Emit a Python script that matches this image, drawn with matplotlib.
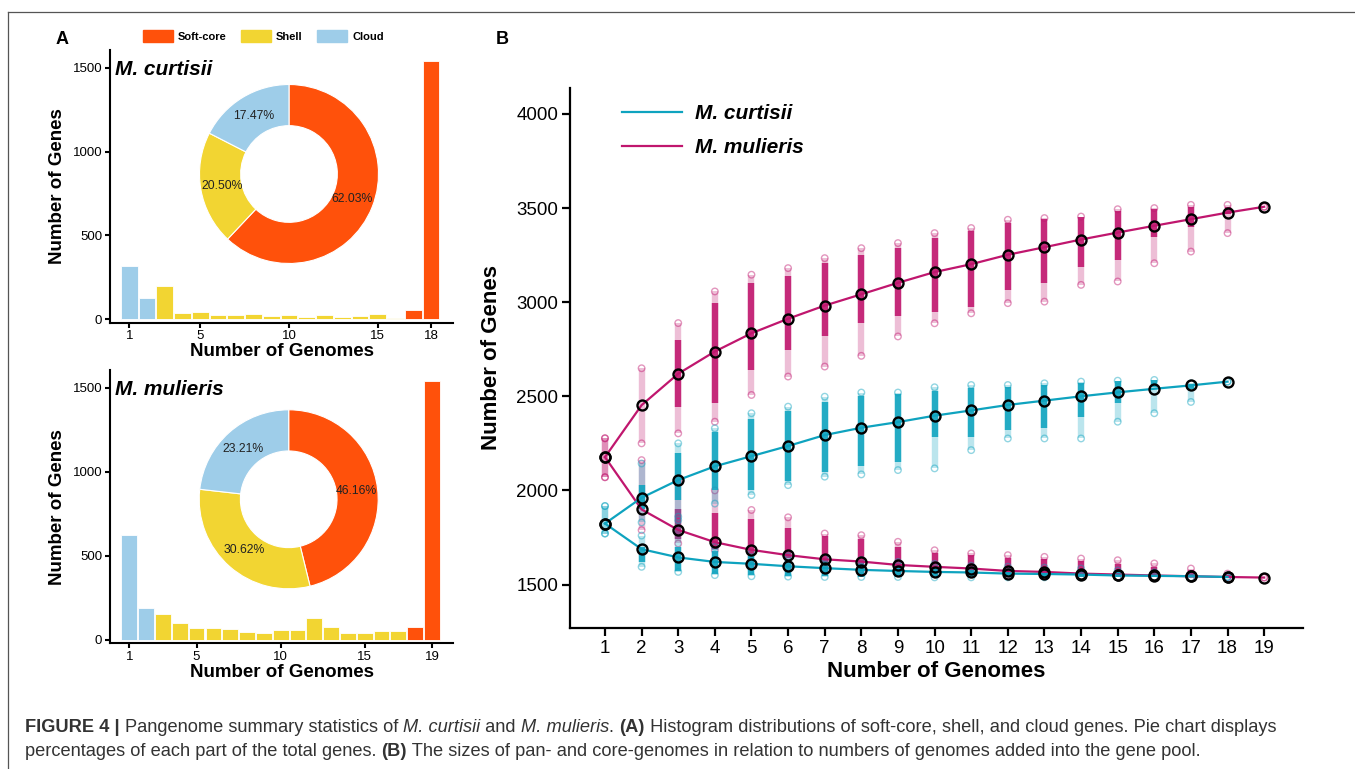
import matplotlib
matplotlib.use("Agg")
import matplotlib.pyplot as plt
from matplotlib.patches import Patch
from matplotlib.lines import Line2D

plt.rcParams["font.family"] = ["Liberation Sans", "DejaVu Sans"]

# ---------------- data: panel A ----------------
cur_counts = [319, 129, 198, 38, 42, 28, 28, 34, 22, 24, 14, 24, 12, 22, 30, 8, 55, 1540]
cur_cats = ["Cloud"] * 2 + ["Shell"] * 14 + ["Soft-core"] * 2
cur_pct = [62.03, 20.50, 17.47]

mul_counts = [624, 189, 153, 101, 70, 72, 64, 50, 44, 60, 60, 131, 79, 44, 40, 52, 54, 79, 1538]
mul_cats = ["Cloud"] * 2 + ["Shell"] * 15 + ["Soft-core"] * 2
mul_pct = [46.16, 30.62, 23.21]

pie_order = ["Soft-core", "Shell", "Cloud"]
part_colors = {"Soft-core": "#ff510b", "Shell": "#f2d532", "Cloud": "#9ecde9"}

# ---------------- data: panel B ----------------
cur_n = list(range(1, 19))
cur_pan = [1824, 1961, 2055, 2128, 2182, 2236, 2294, 2333, 2363, 2397, 2425, 2454, 2477, 2500, 2521, 2540, 2558, 2578]
cur_core = [1824, 1688, 1644, 1620, 1610, 1597, 1587, 1578, 1572, 1567, 1564, 1558, 1556, 1553, 1548, 1546, 1544, 1540]
# spread of permutations: faint low, dense low, dense high, faint high
cur_pan_flo = [1771, 1830, 1860, 1930, 1975, 2028, 2073, 2085, 2108, 2117, 2214, 2276, 2276, 2276, 2365, 2410, 2470, 2578]
cur_pan_dlo = [1824, 1900, 1950, 2000, 2000, 2050, 2100, 2130, 2150, 2285, 2285, 2321, 2330, 2391, 2463, 2551, 2540, 2578]
cur_pan_dhi = [1824, 2030, 2200, 2310, 2380, 2420, 2470, 2500, 2510, 2530, 2545, 2550, 2560, 2570, 2580, 2585, 2565, 2578]
cur_pan_fhi = [1917, 2143, 2250, 2330, 2410, 2445, 2498, 2520, 2520, 2548, 2560, 2560, 2569, 2578, 2583, 2587, 2569, 2578]
cur_core_flo = [1771, 1594, 1567, 1550, 1544, 1542, 1540, 1540, 1540, 1538, 1538, 1538, 1538, 1538, 1538, 1538, 1538, 1540]
cur_core_dlo = [1824, 1620, 1570, 1555, 1548, 1545, 1543, 1542, 1542, 1540, 1540, 1540, 1540, 1540, 1540, 1540, 1540, 1540]
cur_core_dhi = [1824, 1700, 1700, 1680, 1650, 1630, 1620, 1610, 1600, 1590, 1585, 1580, 1575, 1570, 1565, 1558, 1550, 1540]
cur_core_fhi = [1917, 1760, 1842, 1700, 1665, 1650, 1640, 1630, 1620, 1610, 1600, 1595, 1590, 1585, 1575, 1565, 1555, 1540]

mul_n = list(range(1, 20))
mul_pan = [2177, 2453, 2620, 2738, 2835, 2912, 2982, 3042, 3103, 3160, 3202, 3252, 3292, 3333, 3370, 3406, 3441, 3476, 3507]
mul_core = [2177, 1899, 1790, 1725, 1684, 1656, 1634, 1622, 1604, 1594, 1585, 1572, 1567, 1558, 1553, 1548, 1544, 1540, 1537]
mul_pan_flo = [2070, 2250, 2303, 2365, 2507, 2605, 2658, 2715, 2818, 2888, 2941, 2995, 3003, 3092, 3110, 3207, 3269, 3367, 3507]
mul_pan_dlo = [2177, 2453, 2445, 2463, 2640, 2747, 2818, 2889, 2924, 2950, 2977, 3065, 3101, 3189, 3225, 3349, 3400, 3470, 3507]
mul_pan_dhi = [2177, 2453, 2800, 2995, 3101, 3137, 3208, 3252, 3287, 3340, 3380, 3420, 3440, 3450, 3485, 3495, 3505, 3505, 3507]
mul_pan_fhi = [2277, 2649, 2889, 3057, 3146, 3181, 3234, 3287, 3314, 3367, 3394, 3438, 3447, 3455, 3494, 3500, 3517, 3517, 3507]
mul_core_flo = [2070, 1789, 1718, 1683, 1600, 1590, 1585, 1580, 1570, 1560, 1555, 1550, 1545, 1542, 1540, 1538, 1537, 1537, 1537]
mul_core_dlo = [2177, 1899, 1740, 1690, 1660, 1640, 1620, 1600, 1590, 1575, 1565, 1560, 1555, 1550, 1545, 1542, 1540, 1538, 1537]
mul_core_dhi = [2177, 1899, 1900, 1880, 1850, 1800, 1760, 1740, 1700, 1670, 1655, 1640, 1635, 1625, 1610, 1595, 1575, 1550, 1537]
mul_core_fhi = [2277, 2161, 2050, 2000, 1896, 1857, 1771, 1762, 1727, 1682, 1665, 1656, 1647, 1638, 1629, 1612, 1585, 1558, 1537]

teal = "#0ea3bf"
magenta = "#c0166e"

# ---------------- figure ----------------
W, H = 1355, 769
fig = plt.figure(figsize=(W / 100, H / 100), dpi=100)


def box(l, t, r, b):
    return [l / W, 1 - b / H, (r - l) / W, (b - t) / H]


def style_axes(ax, lw=1.5):
    for s in ["top", "right"]:
        ax.spines[s].set_visible(False)
    for s in ["left", "bottom"]:
        ax.spines[s].set_linewidth(lw)
    ax.tick_params(direction="out", width=lw, length=3.5, colors="black")


def hist_panel(rect, counts, cats, xticks, xlim, title, pct, center):
    ax = fig.add_axes(box(*rect))
    xs = list(range(1, len(counts) + 1))
    ax.bar(xs, counts, width=0.94, color=[part_colors[c] for c in cats],
           edgecolor="white", linewidth=0.6)
    ax.set_xlim(*xlim)
    ax.set_ylim(-20, 1605)
    ax.set_xticks(xticks)
    ax.set_yticks([0, 500, 1000, 1500])
    style_axes(ax)
    ax.tick_params(labelsize=9.5, pad=2)
    ax.set_xlabel("Number of Genomes", fontsize=13.5, fontweight="bold", labelpad=0.5)
    ax.set_ylabel("Number of Genes", fontsize=13.5, fontweight="bold", labelpad=5)
    ax.text(0.015, 0.93, title, transform=ax.transAxes, fontsize=15,
            fontweight="bold", fontstyle="italic", va="center", ha="left")
    # donut chart
    cx, cy, r = center
    s = 2 * 1.25 * r
    pax = fig.add_axes(box(cx - s / 2, cy - s / 2, cx + s / 2, cy + s / 2))
    pax.pie(pct, colors=[part_colors[c] for c in pie_order], startangle=90,
            counterclock=False, autopct=lambda p: f"{p:.2f}%", pctdistance=0.76,
            wedgeprops=dict(width=0.46, edgecolor="white", linewidth=0.8),
            textprops=dict(fontsize=8.8, color="#222222"))
    pax.set_xlim(-1.25, 1.25)
    pax.set_ylim(-1.25, 1.25)
    return ax


hist_panel((110, 50, 453, 322.7), cur_counts, cur_cats, [1, 5, 10, 15, 18],
           (-0.09, 19.24), "M. curtisii", cur_pct, (289, 174, 89.5))
hist_panel((110, 370, 453, 643.3), mul_counts, mul_cats, [1, 5, 10, 15, 19],
           (-0.15, 20.25), "M. mulieris", mul_pct, (288.7, 499.3, 89.5))

fig.legend(handles=[Patch(color=part_colors[c]) for c in pie_order], labels=pie_order,
           loc="center left", bbox_to_anchor=(143 / W, 1 - 36 / H), ncol=3, frameon=False,
           prop=dict(size=8, weight="bold"), handlelength=2.7, handleheight=1.35,
           handletextpad=0.45, columnspacing=1.3, borderpad=0, borderaxespad=0)

# ---------------- panel B ----------------
axb = fig.add_axes(box(570, 88, 1303, 628))


def spread(ax, xs, flo, dlo, dhi, fhi, color):
    ax.vlines(xs, flo, fhi, color=color, alpha=0.28, lw=4.6, zorder=2)
    ax.vlines(xs, dlo, dhi, color=color, alpha=0.88, lw=4.6, zorder=2)
    ax.scatter(xs, flo, s=22, facecolors="none", edgecolors=color, alpha=0.45, lw=1, zorder=2)
    ax.scatter(xs, fhi, s=22, facecolors="none", edgecolors=color, alpha=0.45, lw=1, zorder=2)


spread(axb, mul_n, mul_pan_flo, mul_pan_dlo, mul_pan_dhi, mul_pan_fhi, magenta)
spread(axb, mul_n, mul_core_flo, mul_core_dlo, mul_core_dhi, mul_core_fhi, magenta)
spread(axb, cur_n, cur_pan_flo, cur_pan_dlo, cur_pan_dhi, cur_pan_fhi, teal)
spread(axb, cur_n, cur_core_flo, cur_core_dlo, cur_core_dhi, cur_core_fhi, teal)

for xs, ys, c in [(mul_n, mul_pan, magenta), (mul_n, mul_core, magenta),
                  (cur_n, cur_pan, teal), (cur_n, cur_core, teal)]:
    axb.plot(xs, ys, color=c, lw=1.6, zorder=3)
    axb.plot(xs, ys, ls="none", marker="o", ms=7.2, mfc="none", mec="black", mew=1.7, zorder=4)

axb.set_xlim(0.045, 20.06)
axb.set_ylim(1269, 4138)
axb.set_xticks(mul_n)
axb.set_yticks([1500, 2000, 2500, 3000, 3500, 4000])
style_axes(axb, lw=1.6)
axb.tick_params(labelsize=13.5, length=5.5, pad=3)
axb.set_xlabel("Number of Genomes", fontsize=16, fontweight="bold", labelpad=3)
axb.set_ylabel("Number of Genes", fontsize=16, fontweight="bold", labelpad=10)
axb.legend(handles=[Line2D([], [], color=teal, lw=1.6), Line2D([], [], color=magenta, lw=1.6)],
           labels=["M. curtisii", "M. mulieris"], loc="upper left",
           bbox_to_anchor=(622 / W, 1 - 104 / H), bbox_transform=fig.transFigure,
           frameon=False, prop=dict(size=15, weight="bold", style="italic"),
           handlelength=2.9, handletextpad=0.6, labelspacing=0.72, borderpad=0, borderaxespad=0)

# panel letters
fig.text(62 / W, 1 - 40 / H, "A", fontsize=13, fontweight="bold", ha="center", va="center")
fig.text(502 / W, 1 - 40 / H, "B", fontsize=13, fontweight="bold", ha="center", va="center")

# frame lines
fig.add_artist(Line2D([8 / W, 8 / W], [0, 1 - 12 / H], transform=fig.transFigure, color="#555555", lw=0.9))
fig.add_artist(Line2D([8 / W, 1], [1 - 12 / H, 1 - 12 / H], transform=fig.transFigure, color="#555555", lw=0.9))

# ---------------- caption ----------------
cap1 = [("FIGURE 4 | ", "b"), ("Pangenome summary statistics of ", "n"), ("M. curtisii", "i"),
        (" and ", "n"), ("M. mulieris", "i"), (". ", "n"), ("(A)", "b"),
        (" Histogram distributions of soft-core, shell, and cloud genes. Pie chart displays", "n")]
cap2 = [("percentages of each part of the total genes. ", "n"), ("(B)", "b"),
        (" The sizes of pan- and core-genomes in relation to numbers of genomes added into the gene pool.", "n")]

renderer = fig.canvas.get_renderer()


def props(style, size):
    kw = dict(fontsize=size, color="#333333", va="center", ha="left")
    if style == "b":
        kw["fontweight"] = "bold"
    elif style == "i":
        kw["fontstyle"] = "italic"
    return kw


def width_of(s, style, size):
    t1 = fig.text(0, 0, "|" + s + "|", **props(style, size))
    t2 = fig.text(0, 0, "||", **props(style, size))
    w = t1.get_window_extent(renderer).width - t2.get_window_extent(renderer).width
    t1.remove()
    t2.remove()
    return w


base = 10
line1_w = sum(width_of(s, st, base) for s, st in cap1)
cap_size = base * (1277 - 25) / line1_w


def caption_line(y, parts):
    x = 25
    for s, st in parts:
        fig.text(x / W, 1 - y / H, s, **props(st, cap_size))
        x += width_of(s, st, cap_size)


caption_line(727, cap1)
caption_line(752, cap2)

fig.savefig("out.png", dpi=100)
